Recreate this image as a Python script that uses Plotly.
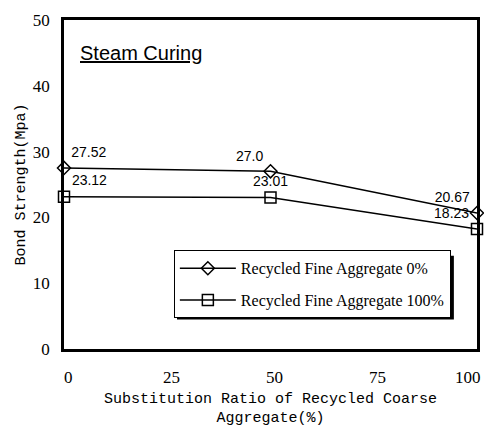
import plotly.graph_objects as go

ratio = [0, 50, 100]
fine0 = [27.52, 27.0, 20.67]
fine100 = [23.12, 23.01, 18.23]
fine0_labels = ["27.52", "27.0", "20.67"]
fine100_labels = ["23.12", "23.01", "18.23"]
series_names = ["Recycled Fine Aggregate 0%", "Recycled Fine Aggregate 100%"]
x_ticks = [0, 25, 50, 75, 100]
x_ticktext = ["0", "25", "50", "75", "100"]
y_ticks = [0, 10, 20, 30, 40, 50]

label_font = dict(family="Liberation Sans, Arial, sans-serif", size=14, color="black")
tick_font = dict(family="Liberation Serif, Times New Roman, serif", size=17, color="black")
mono_font = dict(family="Liberation Mono, DejaVu Sans Mono, monospace", size=15, color="black")

fig = go.Figure()
fig.add_trace(go.Scatter(
    x=ratio, y=fine0, name=series_names[0], mode="lines+markers+text",
    legendgroup="a",
    line=dict(color="black", width=1.5),
    marker=dict(symbol="diamond-open", size=10, color="black", line=dict(width=1.5)),
    text=fine0_labels, textposition=["top right", "top left", "top left"],
    textfont=label_font, cliponaxis=False,
))
fig.add_trace(go.Scatter(
    x=ratio, y=fine100, name=series_names[1], mode="lines+markers+text",
    legendgroup="b",
    line=dict(color="black", width=1.5),
    marker=dict(symbol="square-open", size=11, color="black", line=dict(width=1.5)),
    text=fine100_labels, textposition=["top right", "top center", "top left"],
    textfont=label_font, cliponaxis=False,
))

fig.add_annotation(
    text="<u>Steam Curing</u>", xref="paper", yref="paper", x=0.035, y=0.9,
    xanchor="left", yanchor="middle", showarrow=False,
    font=dict(family="Liberation Sans, Arial, sans-serif", size=20, color="black"),
)

# x tick labels (placed at the axis tick values)
for i, (v, t) in enumerate(zip(x_ticks, x_ticktext)):
    last = i == len(x_ticks) - 1
    fig.add_annotation(
        text=t, x=v, xref="x", y=0, yref="paper",
        xanchor="right" if last else "center", yanchor="middle",
        xshift=6 if last else 4, yshift=-28, showarrow=False, font=tick_font,
    )

# legend drop shadow
fig.add_shape(type="rect", xref="paper", yref="paper",
              x0=0.2736, x1=0.944, y0=0.0896, y1=0.2836,
              fillcolor="black", line=dict(width=0), layer="above")

fig.update_layout(
    template="none",
    width=476, height=420,
    margin=dict(l=56, r=7, t=12, b=79),
    paper_bgcolor="white", plot_bgcolor="white",
    showlegend=True,
    legend=dict(
        x=0.266, y=0.30, xanchor="left", yanchor="top",
        bgcolor="white", bordercolor="black", borderwidth=1,
        font=dict(family="Liberation Serif, Times New Roman, serif", size=16, color="black"),
        itemwidth=56, traceorder="grouped", tracegroupgap=8,
    ),
    xaxis=dict(
        automargin=False,
        range=[0, 100], tickvals=x_ticks, showticklabels=False,
        showgrid=False, zeroline=False, showline=True, linecolor="black",
        linewidth=2.5, mirror=True, ticks="",
        title=dict(text="Substitution Ratio of Recycled Coarse<br>Aggregate(%)",
                   font=mono_font, standoff=42),
    ),
    yaxis=dict(
        automargin=False,
        range=[0, 50], tickvals=y_ticks, ticktext=[str(v) for v in y_ticks],
        showgrid=False, zeroline=False, showline=True, linecolor="black",
        linewidth=2.5, mirror=True, ticks="outside", ticklen=8,
        tickcolor="rgba(0,0,0,0)", ticklabeloverflow="allow",
        tickfont=tick_font,
        title=dict(text="Bond Strength(Mpa)", font=mono_font, standoff=4),
    ),
)

fig.write_html("out.html")
